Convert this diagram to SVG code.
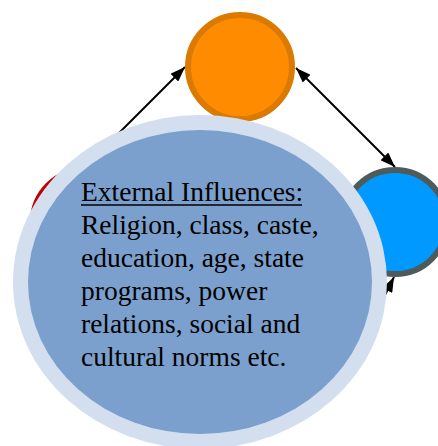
<svg xmlns="http://www.w3.org/2000/svg" width="438" height="446" viewBox="0 0 438 446">
  <defs>
    <marker id="ah" viewBox="0 0 15 11" refX="15" refY="5.5" markerWidth="15" markerHeight="11" markerUnits="userSpaceOnUse" orient="auto-start-reverse">
      <path d="M0,0 L15,5.5 L0,11 z" fill="#000"/>
    </marker>
  </defs>
  <style>
    .conn { stroke: #000; stroke-width: 2; fill: none; }
    .txt { font-family: "Liberation Serif", "DejaVu Serif", serif; font-size: 27.5px; fill: #000; }
  </style>
  <g id="connectors">
    <line class="conn" x1="100" y1="152" x2="185" y2="67" marker-end="url(#ah)"/>
    <line class="conn" x1="296" y1="68" x2="395" y2="167" marker-start="url(#ah)" marker-end="url(#ah)"/>
    <line class="conn" x1="370" y1="325" x2="394" y2="277" marker-end="url(#ah)"/>
  </g>
  <g id="node-red">
    <circle cx="85" cy="222" r="53" fill="#C00000" stroke="#C00000" stroke-width="4"/>
  </g>
  <g id="node-orange">
    <circle cx="240" cy="67" r="52" fill="#FF8C00" stroke="#DA7A00" stroke-width="6"/>
  </g>
  <g id="node-blue">
    <circle cx="395" cy="222" r="52" fill="#0099FF" stroke="#4F5B5B" stroke-width="6"/>
  </g>
  <g id="node-external">
    <ellipse cx="200" cy="282" rx="187" ry="167" fill="#D3DFEE"/>
    <ellipse cx="200" cy="282" rx="172" ry="152" fill="#7BA0CD"/>
    <text class="txt" x="81" y="201">External Influences:</text>
    <line x1="81" y1="205" x2="302" y2="205" stroke="#000" stroke-width="1.6"/>
    <text class="txt" x="81" y="234">Religion, class, caste,</text>
    <text class="txt" x="81" y="267">education, age, state</text>
    <text class="txt" x="81" y="300">programs, power</text>
    <text class="txt" x="81" y="333">relations, social and</text>
    <text class="txt" x="81" y="366">cultural norms etc.</text>
  </g>
</svg>
